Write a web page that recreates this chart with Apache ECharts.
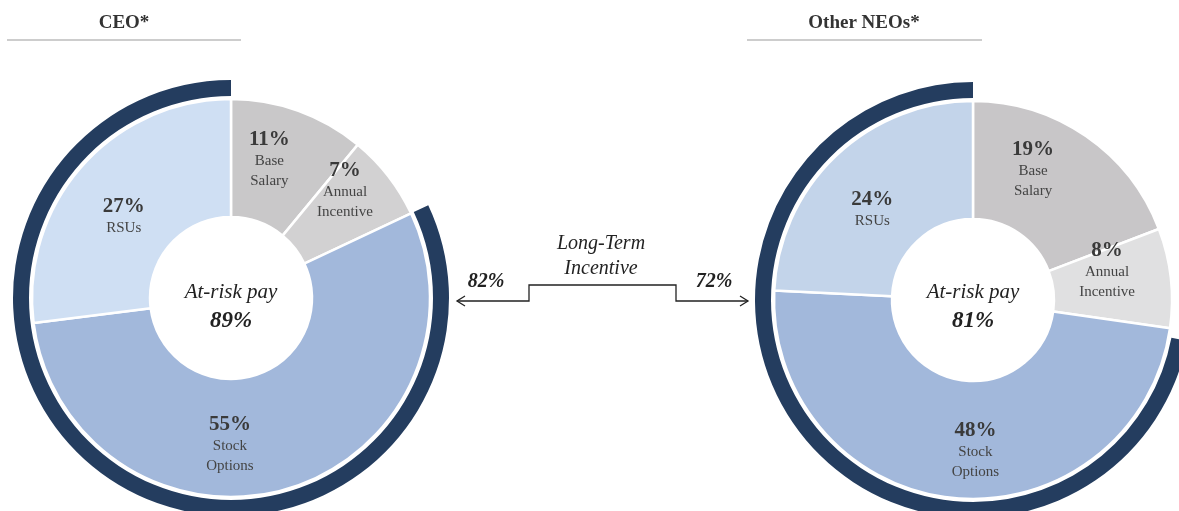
<!DOCTYPE html>
<html>
<head>
<meta charset="utf-8">
<script src="https://cdn.jsdelivr.net/npm/echarts@6/dist/echarts.min.js"></script>
<style>
  html, body { margin: 0; padding: 0; background: #fff; }
  #chart { width: 1179px; height: 511px; }
</style>
</head>
<body>
<div id="chart"></div>
<script>
const groups = ["CEO*", "Other NEOs*"];
const categories = ["Base Salary", "Annual Incentive", "Stock Options", "RSUs"];
const ceoValues = [11, 7, 55, 27];
const neoValues = [19, 8, 48, 24];
const ltiShare = [82, 72];
const atRiskPay = [89, 81];

const serif = "'Liberation Serif', 'DejaVu Serif', serif";
const ring = "#243d5f";
const sliceColors = [
  ["#c9c8c9", "#d2d1d2", "#a2b8db", "#cfdff3"],
  ["#c8c6c8", "#e0e0e1", "#a2b8db", "#c3d4ea"],
];
// nudges so labels sit where the original put them
const labelShift = [
  [[-10, -4], [1, -20], [-41, 9], [0, 13]],
  [[-21, -13], [-8, -14], [16, 8], [-2, 13]],
];
const centers = [[231, 298], [973, 300]];

const chart = echarts.init(document.getElementById("chart"));

const series = [];
[ceoValues, neoValues].forEach((values, g) => {
  series.push({
    type: "pie",
    center: centers[g],
    radius: [81, 199],
    startAngle: 90,
    clockwise: true,
    silent: true,
    avoidLabelOverlap: false,
    labelLine: { show: false },
    itemStyle: { borderColor: "#fff", borderWidth: 2.5 },
    label: {
      show: true,
      position: "inside",
      formatter: (p) => "{p|" + p.value + "%}\n{n|" + p.name.replace(" ", "\n") + "}",
      rich: {
        p: { fontFamily: serif, fontWeight: "bold", fontSize: 21, color: "#3a3a3a", lineHeight: 23 },
        n: { fontFamily: serif, fontSize: 15, color: "#444", lineHeight: 20 },
      },
    },
    data: values.map((v, i) => ({
      name: categories[i],
      value: v,
      itemStyle: { color: sliceColors[g][i] },
      label: { offset: labelShift[g][i] },
    })),
  });
  series.push({
    type: "pie",
    center: centers[g],
    radius: [202, 218],
    startAngle: 90,
    clockwise: true,
    silent: true,
    label: { show: false },
    labelLine: { show: false },
    data: [
      { name: "rest", value: 100 - ltiShare[g], itemStyle: { color: "rgba(0,0,0,0)" } },
      { name: "Long-Term Incentive", value: ltiShare[g], itemStyle: { color: ring } },
    ],
  });
});

const txt = (x, y, text, size, weight, style, color) => ({
  type: "text",
  x, y,
  style: {
    text, fill: color || "#222", font: style + " " + weight + " " + size + "px " + serif,
    textAlign: "center", textVerticalAlign: "middle",
  },
});

const graphic = [
  txt(124, 23, groups[0], 19, "bold", "normal", "#333"),
  txt(864, 23, groups[1], 19, "bold", "normal", "#333"),
  { type: "line", shape: { x1: 7, y1: 40, x2: 241, y2: 40 }, style: { stroke: "#bdbdbd", lineWidth: 1.5 } },
  { type: "line", shape: { x1: 747, y1: 40, x2: 982, y2: 40 }, style: { stroke: "#bdbdbd", lineWidth: 1.5 } },
  txt(centers[0][0], 292, "At-risk pay", 21, "normal", "italic"),
  txt(centers[0][0], 321, atRiskPay[0] + "%", 23, "bold", "italic"),
  txt(centers[1][0], 292, "At-risk pay", 21, "normal", "italic"),
  txt(centers[1][0], 321, atRiskPay[1] + "%", 23, "bold", "italic"),
  txt(601, 244, "Long-Term", 20, "normal", "italic"),
  txt(601, 269, "Incentive", 20, "normal", "italic"),
  txt(486, 282, ltiShare[0] + "%", 20, "bold", "italic"),
  txt(714, 282, ltiShare[1] + "%", 20, "bold", "italic"),
  {
    type: "polyline",
    shape: { points: [[457, 301], [529, 301], [529, 285], [676, 285], [676, 301], [748, 301]] },
    style: { stroke: "#222", lineWidth: 1.3, fill: null },
  },
  {
    type: "polyline",
    shape: { points: [[465, 296], [457, 301], [465, 306]] },
    style: { stroke: "#222", lineWidth: 1.3, fill: null },
  },
  {
    type: "polyline",
    shape: { points: [[740, 296], [748, 301], [740, 306]] },
    style: { stroke: "#222", lineWidth: 1.3, fill: null },
  },
];

chart.setOption({
  animation: false,
  backgroundColor: "#fff",
  series,
  graphic,
});
</script>
</body>
</html>
